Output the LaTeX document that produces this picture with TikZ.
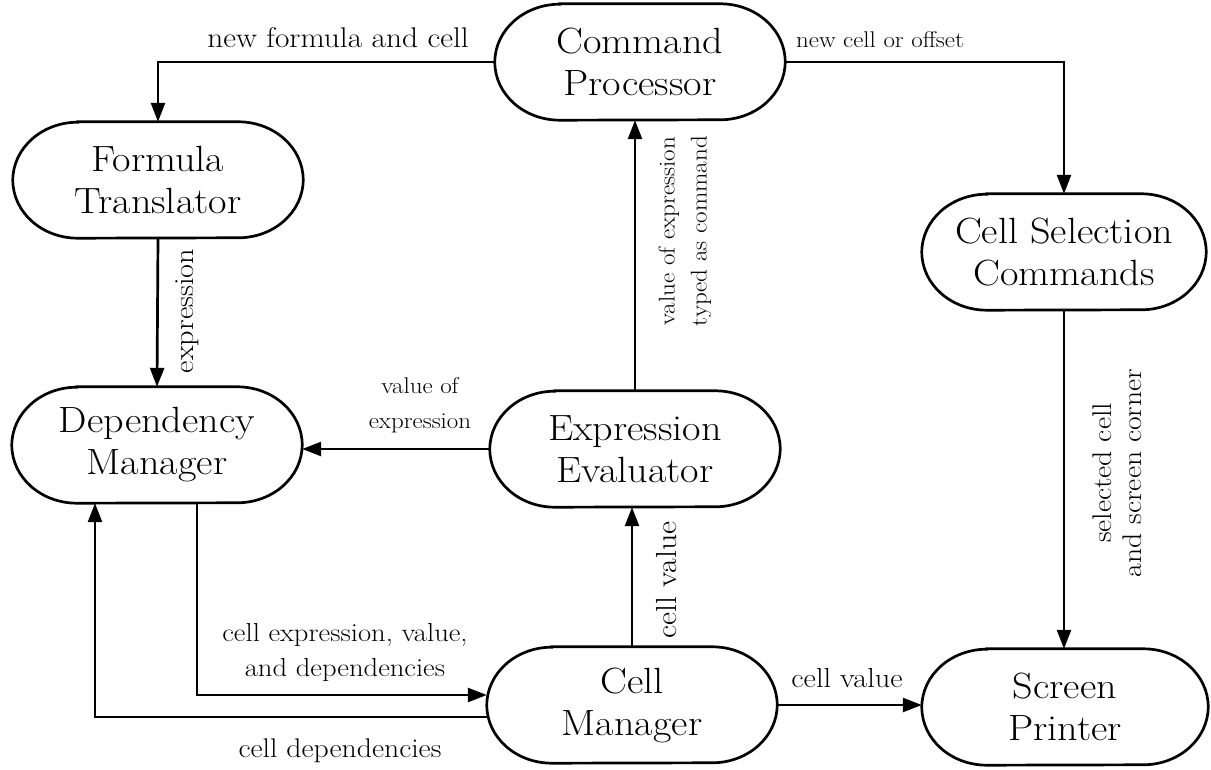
\documentclass[tikz,border=0pt]{standalone}
\usepackage{fontspec}
\setmainfont{Latin Modern Roman}[FakeStretch=1.1]
\usetikzlibrary{arrows.meta,calc}
\tikzset{
  box/.style={minimum width=290pt, minimum height=116pt, inner sep=0pt, align=center, font=\fontsize{36.5}{42}\selectfont},
  lbl/.style={align=center, inner sep=0pt},
  fs/.style={font=\fontsize{#1}{35}\selectfont},
  arr/.style={line width=2.7pt, -{Triangle[length=19pt,width=14pt]}},
  outline/.style={line width=2.7pt}
}
\newcommand\stadium[1]{\draw[outline] ([xshift=65pt]#1.north west) -- ([xshift=-65pt]#1.north east) arc[start angle=90,end angle=-90,x radius=65pt,y radius=58pt] -- ([xshift=65pt]#1.south west) arc[start angle=270,end angle=90,x radius=65pt,y radius=58pt] -- cycle;}
\begin{document}
\begin{tikzpicture}[x=1pt,y=1pt]
\useasboundingbox (0,0) rectangle (1211,769);
\node[box] (CP) at (640,707) {Command\\Processor};
\node[box] (FT) at (158,589) {Formula\\Translator};
\node[box] (DM) at (157,324) {Dependency\\Manager};
\node[box] (EE) at (635,320) {Expression\\Evaluator};
\node[box, minimum width=284pt] (CSC) at (1064,517) {Cell Selection\\Commands};
\node[box] (CM) at (632,64) {Cell\\Manager};
\node[box, minimum width=286pt] (SP) at (1065,62) {Screen\\Printer};
\stadium{CP}\stadium{FT}\stadium{DM}\stadium{EE}\stadium{CSC}\stadium{CM}\stadium{SP}
\coordinate (c1) at (197,74);
\coordinate (c2) at (95,52);
% connectors
\draw[arr] (CP.west) -| (FT.north);
\draw[arr] (CP.east) -| (CSC.north);
\draw[arr] (FT.south) -- (DM.north);
\draw[arr] (EE.north) -- (EE.north |- CP.south);
\draw[arr] (EE.west) -- (EE.west -| DM.east);
\draw[arr] (CM.north) -- (CM.north |- EE.south);
\draw[arr] (c1 |- DM.south) -- (c1) -- (c1 -| CM.west);
\draw[arr] (c2 -| CM.west) -- (c2) -- (c2 |- DM.south);
\draw[arr] (CM.east) -- (CM.east -| SP.west);
\draw[arr] (CSC.south) -- (CSC.south |- SP.north);
% labels
\node[lbl, fs=28.5] (l1) at (338,731) {new formula and cell};
\node[lbl, fs=22.7] (l2) at (880,729) {new cell or offset};
\node[lbl, fs=27.5, rotate=90] (l3) at (187,458) {expression};
\node[lbl, font=\fontsize{22.8}{32}\selectfont, rotate=90] (l4) at (685,538) {value of expression\\typed as command};
\node[lbl, fs=22.7] (l5) at (420,364) {value of\\expression};
\node[lbl, fs=29, rotate=90] (l6) at (667,189) {cell value};
\node[lbl, fs=26] (l7) at (345,116) {cell expression, value,\\and dependencies};
\node[lbl, fs=27] (l8) at (340,18) {cell dependencies};
\node[lbl, fs=27.5] (l9) at (847,91) {cell value};
\node[lbl, font=\fontsize{27}{30}\selectfont, rotate=90] (l10) at (1117,296) {selected cell\\and screen corner};
\end{tikzpicture}
\end{document}
